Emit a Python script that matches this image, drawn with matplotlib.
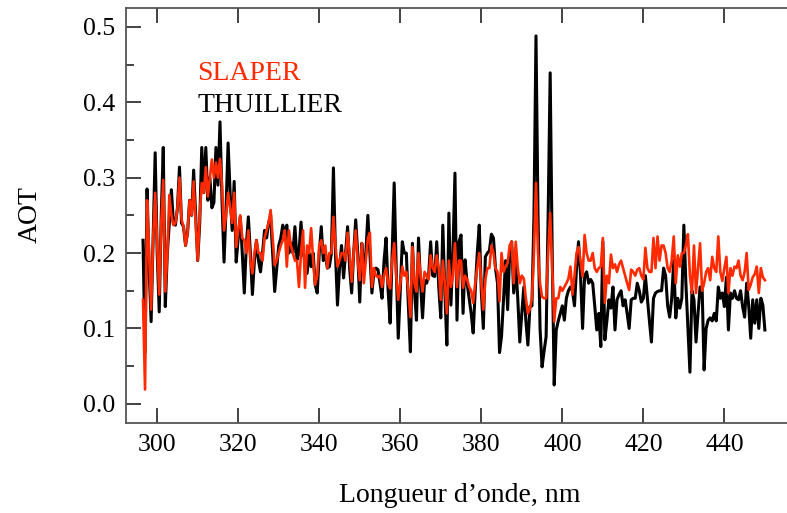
import numpy as np
import matplotlib
matplotlib.use("Agg")
import matplotlib.pyplot as plt
from matplotlib.ticker import MultipleLocator

# wavelength grid, nm (0.5 nm sampling from 296.5 to 450)
wl_start, wl_stop, wl_step = 296.5, 450.0, 0.5

# AOT retrieved with the THUILLIER solar spectrum (black)
aot_thuillier = [
    0.217, 0.068, 0.285, 0.180, 0.109, 0.220, 0.333, 0.200, 0.122, 0.250,
    0.340, 0.129, 0.200, 0.240, 0.284, 0.240, 0.237, 0.260, 0.314, 0.240,
    0.235, 0.210, 0.227, 0.270, 0.250, 0.310, 0.250, 0.190, 0.240, 0.340,
    0.280, 0.340, 0.270, 0.300, 0.260, 0.267, 0.340, 0.290, 0.374, 0.270,
    0.188, 0.260, 0.346, 0.280, 0.230, 0.295, 0.188, 0.220, 0.248, 0.200,
    0.147, 0.210, 0.248, 0.200, 0.145, 0.190, 0.217, 0.190, 0.175, 0.200,
    0.230, 0.220, 0.240, 0.250, 0.200, 0.149, 0.180, 0.210, 0.220, 0.237,
    0.227, 0.237, 0.200, 0.213, 0.200, 0.235, 0.191, 0.200, 0.241, 0.200,
    0.190, 0.173, 0.200, 0.182, 0.200, 0.158, 0.147, 0.200, 0.235, 0.190,
    0.200, 0.180, 0.182, 0.200, 0.313, 0.200, 0.131, 0.180, 0.210, 0.167,
    0.200, 0.235, 0.180, 0.147, 0.200, 0.244, 0.200, 0.135, 0.213, 0.175,
    0.200, 0.250, 0.200, 0.147, 0.175, 0.180, 0.178, 0.160, 0.140, 0.190,
    0.220, 0.150, 0.107, 0.200, 0.293, 0.180, 0.087, 0.150, 0.215, 0.200,
    0.200, 0.130, 0.069, 0.213, 0.150, 0.111, 0.220, 0.160, 0.114, 0.164,
    0.160, 0.170, 0.215, 0.170, 0.169, 0.215, 0.155, 0.114, 0.237, 0.150,
    0.078, 0.253, 0.131, 0.200, 0.306, 0.111, 0.215, 0.224, 0.120, 0.191,
    0.160, 0.140, 0.120, 0.094, 0.150, 0.200, 0.237, 0.150, 0.100, 0.195,
    0.200, 0.203, 0.225, 0.220, 0.180, 0.160, 0.068, 0.090, 0.140, 0.190,
    0.125, 0.200, 0.215, 0.147, 0.186, 0.140, 0.082, 0.120, 0.155, 0.110,
    0.078, 0.129, 0.130, 0.250, 0.488, 0.250, 0.100, 0.049, 0.070, 0.089,
    0.250, 0.439, 0.200, 0.025, 0.098, 0.110, 0.120, 0.130, 0.111, 0.140,
    0.150, 0.155, 0.150, 0.130, 0.180, 0.215, 0.170, 0.100, 0.170, 0.175,
    0.160, 0.165, 0.160, 0.130, 0.098, 0.120, 0.076, 0.215, 0.085, 0.110,
    0.138, 0.127, 0.155, 0.098, 0.138, 0.145, 0.150, 0.130, 0.138, 0.120,
    0.100, 0.138, 0.140, 0.140, 0.160, 0.150, 0.135, 0.140, 0.170, 0.140,
    0.110, 0.082, 0.140, 0.147, 0.149, 0.150, 0.150, 0.180, 0.170, 0.130,
    0.115, 0.140, 0.190, 0.114, 0.140, 0.127, 0.140, 0.237, 0.160, 0.100,
    0.042, 0.150, 0.138, 0.082, 0.120, 0.155, 0.155, 0.045, 0.100, 0.111,
    0.114, 0.110, 0.120, 0.110, 0.155, 0.140, 0.147, 0.129, 0.168, 0.098,
    0.147, 0.140, 0.150, 0.140, 0.138, 0.150, 0.129, 0.115, 0.160, 0.131,
    0.087, 0.138, 0.107, 0.138, 0.100, 0.140, 0.131, 0.098,
]

# AOT retrieved with the SLAPER solar spectrum (red)
aot_slaper = [
    0.138, 0.019, 0.270, 0.200, 0.125, 0.220, 0.280, 0.210, 0.145, 0.240,
    0.297, 0.149, 0.200, 0.277, 0.250, 0.237, 0.240, 0.260, 0.300, 0.245,
    0.235, 0.210, 0.227, 0.270, 0.250, 0.295, 0.240, 0.190, 0.250, 0.293,
    0.280, 0.314, 0.275, 0.300, 0.324, 0.300, 0.320, 0.300, 0.325, 0.290,
    0.230, 0.250, 0.280, 0.260, 0.240, 0.280, 0.208, 0.230, 0.250, 0.220,
    0.217, 0.200, 0.230, 0.190, 0.173, 0.200, 0.217, 0.200, 0.200, 0.190,
    0.220, 0.230, 0.240, 0.257, 0.220, 0.184, 0.190, 0.200, 0.210, 0.217,
    0.230, 0.182, 0.230, 0.210, 0.200, 0.190, 0.190, 0.155, 0.200, 0.230,
    0.154, 0.210, 0.200, 0.233, 0.190, 0.158, 0.170, 0.210, 0.217, 0.200,
    0.210, 0.180, 0.200, 0.200, 0.248, 0.210, 0.182, 0.190, 0.200, 0.200,
    0.190, 0.227, 0.200, 0.162, 0.200, 0.230, 0.190, 0.164, 0.213, 0.160,
    0.190, 0.220, 0.227, 0.155, 0.180, 0.170, 0.168, 0.170, 0.155, 0.170,
    0.180, 0.160, 0.153, 0.190, 0.213, 0.170, 0.138, 0.160, 0.182, 0.170,
    0.175, 0.150, 0.115, 0.208, 0.160, 0.149, 0.200, 0.170, 0.149, 0.175,
    0.170, 0.165, 0.197, 0.180, 0.175, 0.197, 0.180, 0.138, 0.190, 0.160,
    0.120, 0.190, 0.155, 0.170, 0.213, 0.155, 0.190, 0.190, 0.154, 0.170,
    0.165, 0.155, 0.150, 0.134, 0.160, 0.180, 0.200, 0.160, 0.125, 0.165,
    0.180, 0.180, 0.210, 0.200, 0.180, 0.175, 0.136, 0.200, 0.175, 0.182,
    0.187, 0.210, 0.215, 0.160, 0.215, 0.180, 0.160, 0.170, 0.166, 0.140,
    0.120, 0.126, 0.140, 0.200, 0.293, 0.200, 0.160, 0.142, 0.140, 0.140,
    0.200, 0.253, 0.180, 0.109, 0.140, 0.140, 0.155, 0.150, 0.155, 0.160,
    0.166, 0.182, 0.145, 0.170, 0.200, 0.208, 0.190, 0.169, 0.224, 0.200,
    0.190, 0.190, 0.200, 0.180, 0.175, 0.180, 0.182, 0.220, 0.134, 0.170,
    0.160, 0.198, 0.180, 0.185, 0.175, 0.185, 0.190, 0.180, 0.170, 0.160,
    0.151, 0.178, 0.175, 0.170, 0.178, 0.180, 0.170, 0.165, 0.207, 0.180,
    0.175, 0.175, 0.220, 0.180, 0.222, 0.190, 0.210, 0.210, 0.200, 0.180,
    0.175, 0.190, 0.222, 0.160, 0.197, 0.182, 0.200, 0.200, 0.210, 0.225,
    0.170, 0.147, 0.210, 0.147, 0.180, 0.213, 0.150, 0.160, 0.175, 0.180,
    0.164, 0.195, 0.180, 0.175, 0.222, 0.175, 0.163, 0.180, 0.195, 0.147,
    0.180, 0.170, 0.182, 0.180, 0.190, 0.170, 0.164, 0.175, 0.200, 0.151,
    0.158, 0.168, 0.172, 0.182, 0.147, 0.180, 0.168, 0.164,
]

wavelength = np.arange(wl_start, wl_stop + wl_step / 2, wl_step)

plt.rcParams["font.family"] = ["Liberation Serif", "DejaVu Serif"]

fig = plt.figure(figsize=(7.87, 5.13), dpi=100)
ax = fig.add_axes([126 / 787, 1 - 422.7 / 513, 664 / 787, 414.7 / 513])

ax.plot(wavelength, aot_thuillier, color="black", lw=2.2)
ax.plot(wavelength, aot_slaper, color="#ff2a00", lw=1.9)

ax.set_xlim(292.3, 456.2)
ax.set_ylim(-0.025, 0.525)
ax.xaxis.set_major_locator(MultipleLocator(20))
ax.yaxis.set_major_locator(MultipleLocator(0.1))
ax.yaxis.set_minor_locator(MultipleLocator(0.05))
ax.yaxis.set_major_formatter(matplotlib.ticker.FormatStrFormatter("%.1f"))

ax.tick_params(which="both", direction="in", top=True, right=False,
               labelsize=18.5, color="#222222", width=1.2)
ax.tick_params(which="major", length=11, pad=8)
ax.tick_params(which="minor", length=6)
for sp in ax.spines.values():
    sp.set_color("#555555")
    sp.set_linewidth(1.3)
# the original is cropped just before its right frame line
ax.spines["right"].set_visible(False)

fig.text(460 / 787, 1 - 495 / 513, "Longueur d’onde, nm", fontsize=20,
         ha="center", va="center")
fig.text(30 / 787, 1 - 215 / 513, "AOT", fontsize=20, rotation=90,
         ha="center", va="center")

fig.text(197 / 787, 1 - 73 / 513, "SLAPER", color="#ff2a00", fontsize=20,
         va="center")
fig.text(197 / 787, 1 - 105 / 513, "THUILLIER", color="black", fontsize=20,
         va="center")

fig.savefig("out.png", dpi=100)
